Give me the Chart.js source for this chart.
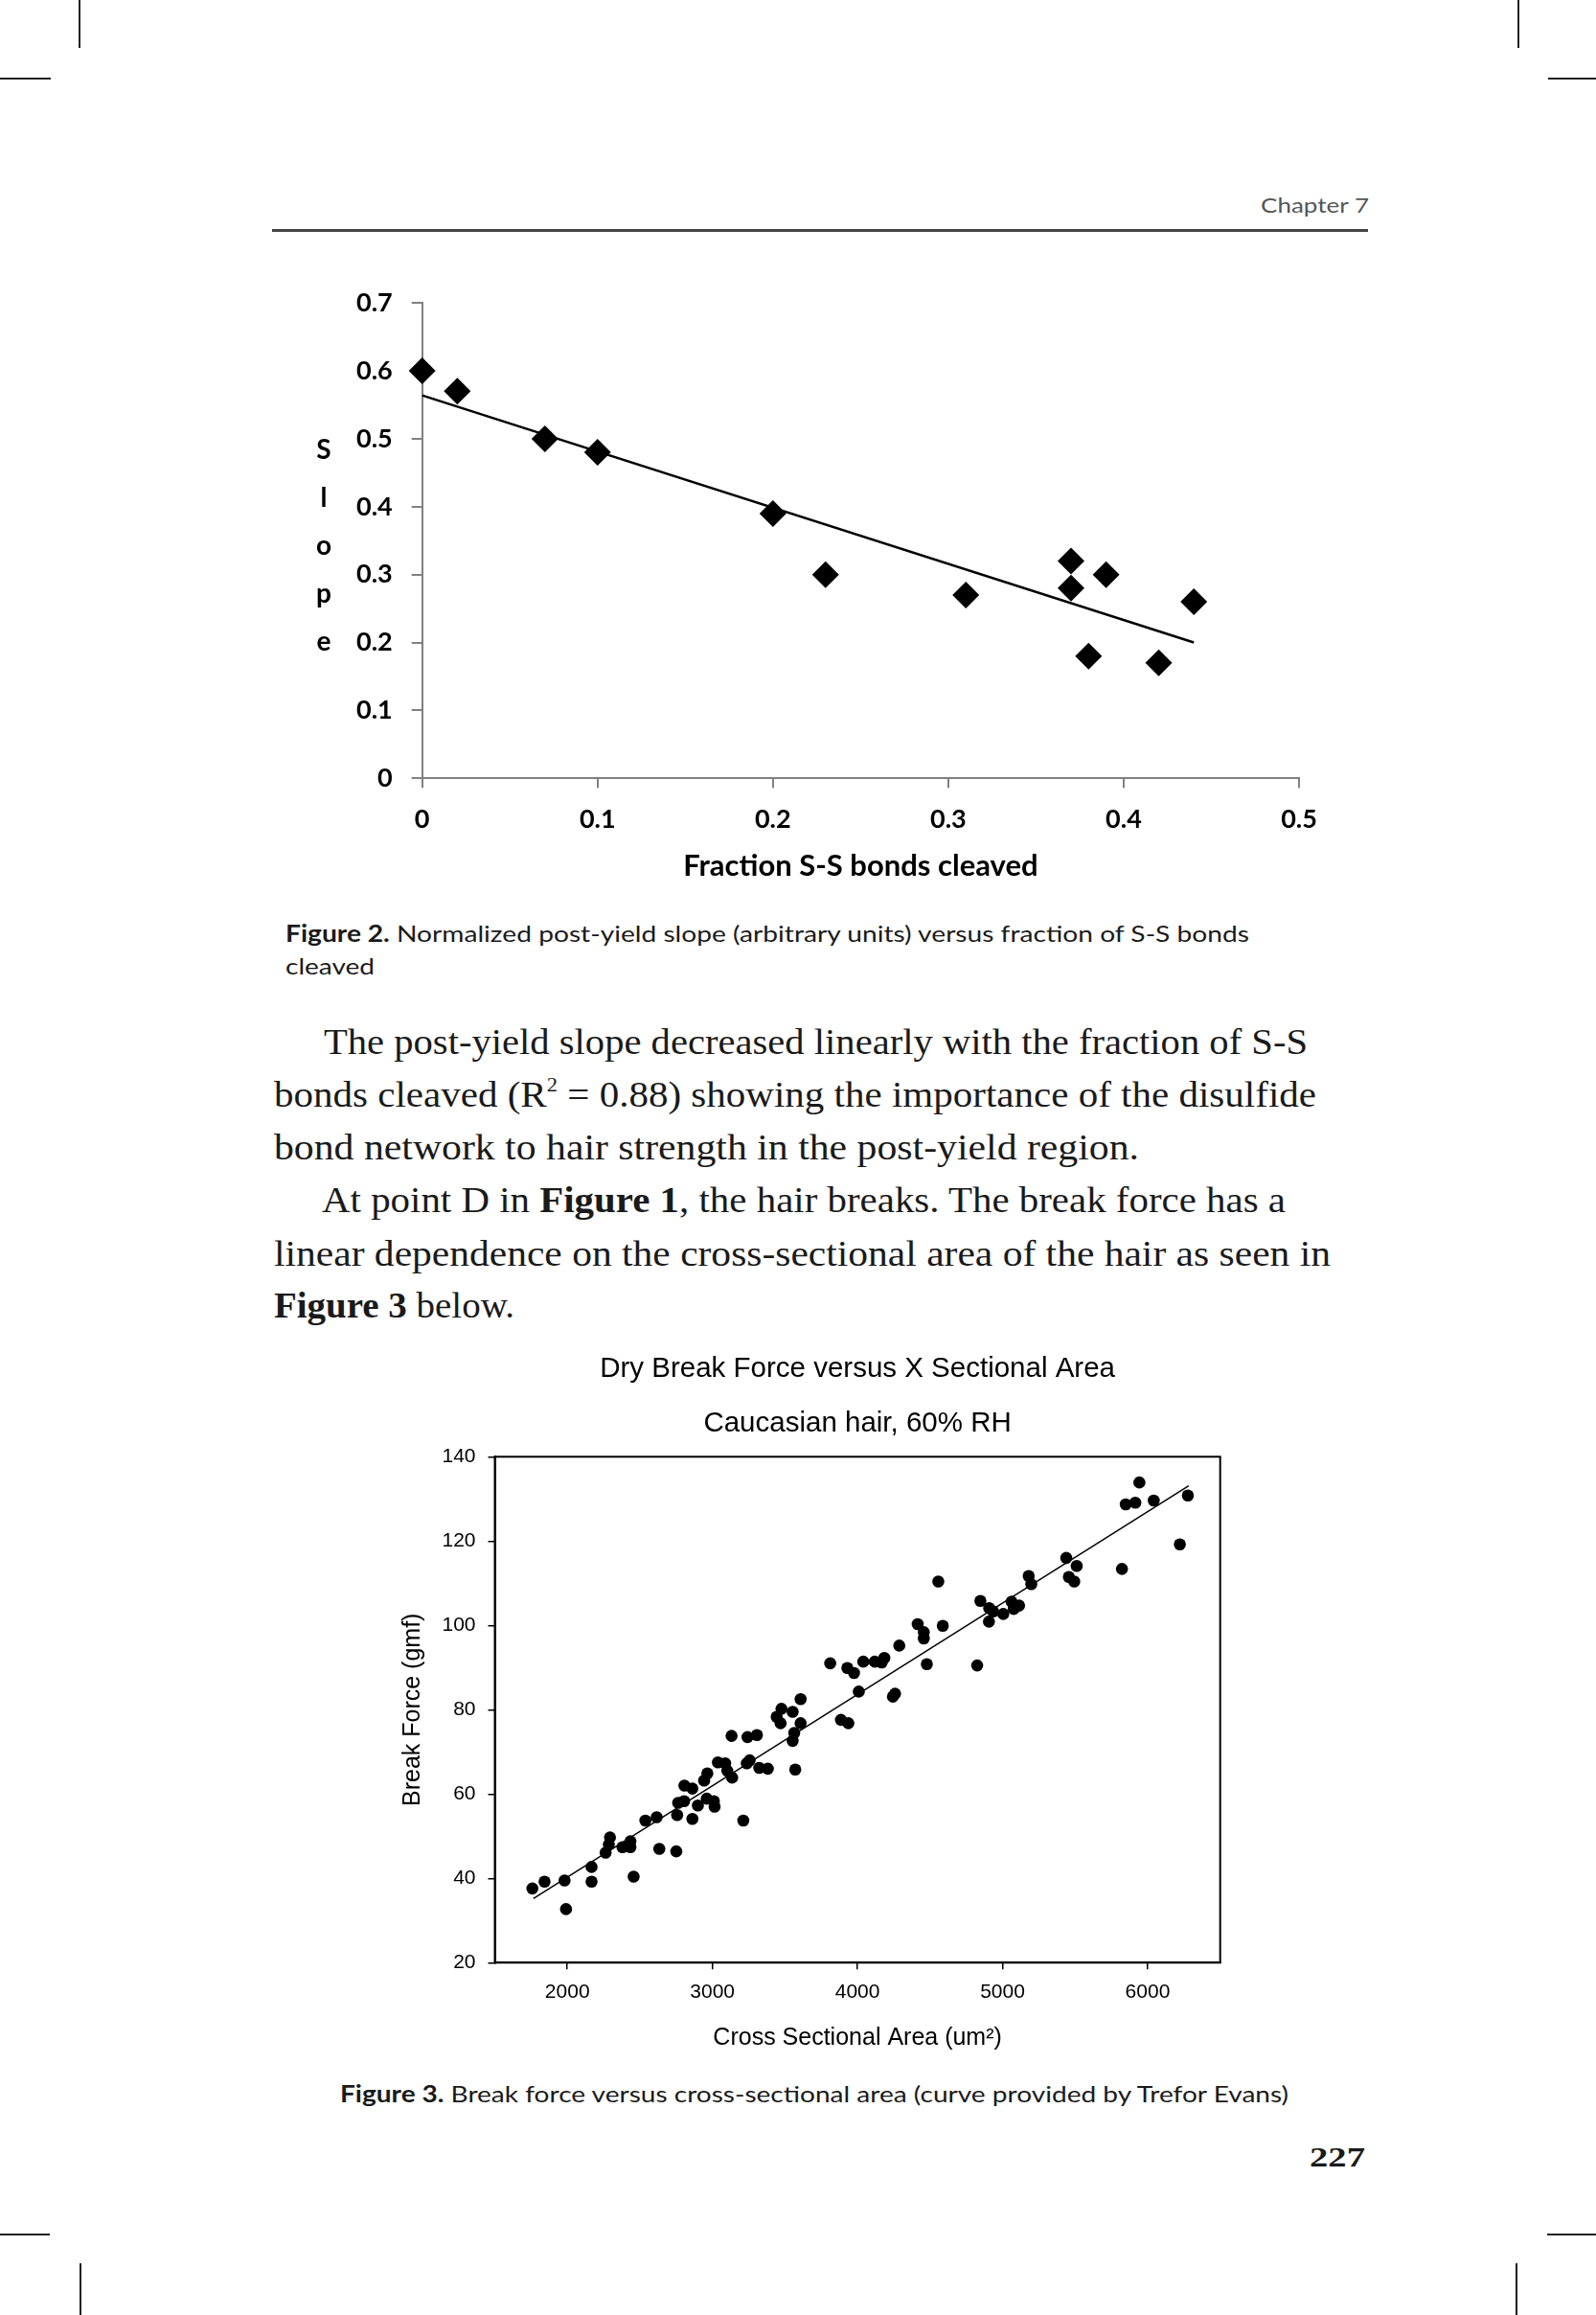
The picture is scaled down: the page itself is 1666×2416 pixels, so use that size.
<!DOCTYPE html>
<html lang="en">
<head>
<meta charset="UTF-8">
<title>Chapter 7 - Figures 2 and 3</title>
<script src="https://cdn.jsdelivr.net/npm/chart.js"></script>
<style>
    html, body { margin: 0; padding: 0; background: #fff; }
    body { width: 1666px; height: 2416px; position: relative; overflow: hidden; }
    .mark { position: absolute; background: #222; }
    .txt { position: absolute; white-space: nowrap; line-height: 0; transform-origin: 0 0; color: #1a1a1a; }
    .sans { font-family: Lato, "Open Sans", sans-serif; font-size: 24px; }
    .serif { font-family: "Liberation Serif", "DejaVu Serif", serif; font-size: 38px; }
    .box { position: absolute; }
    sup { font-size: 55%; line-height: 0; vertical-align: baseline; position: relative; top: -0.75em; }
</style>
</head>
<body>
    <!-- crop marks -->
    <div class="mark" style="left:82px;top:0;width:1.5px;height:50px"></div>
    <div class="mark" style="left:0;top:81px;width:53px;height:1.5px"></div>
    <div class="mark" style="left:1584px;top:0;width:1.5px;height:50px"></div>
    <div class="mark" style="left:1616px;top:81px;width:50px;height:1.5px"></div>
    <div class="mark" style="left:0;top:2331px;width:52px;height:1.5px"></div>
    <div class="mark" style="left:83px;top:2362px;width:1.5px;height:54px"></div>
    <div class="mark" style="left:1615px;top:2331px;width:51px;height:1.5px"></div>
    <div class="mark" style="left:1582px;top:2362px;width:1.5px;height:54px"></div>

    <div class="txt sans" style="left:1316px;top:214px;font-size:22px;color:#555" data-w="113">Chapter 7</div>
    <div class="mark" style="left:284px;top:239px;width:1144px;height:3px;background:#444"></div>

    <div class="box" style="left:280px;top:280px;width:1120px;height:660px">
        <canvas id="chart1"></canvas>
    </div>

    <div class="txt sans" style="left:298px;top:974px" data-w="1006"><b>Figure 2.</b> Normalized post-yield slope (arbitrary units) versus fraction of S-S bonds</div>
    <div class="txt sans" style="left:298px;top:1008px" data-w="93">cleaved</div>

    <div class="txt serif" style="left:338px;top:1087px" data-w="1027">The post-yield slope decreased linearly with the fraction of S-S</div>
    <div class="txt serif" style="left:286px;top:1142px" data-w="1088">bonds cleaved (R<sup>2</sup> = 0.88) showing the importance of the disulfide</div>
    <div class="txt serif" style="left:286px;top:1197px" data-w="903">bond network to hair strength in the post-yield region.</div>
    <div class="txt serif" style="left:336px;top:1252px" data-w="1006">At point D in <b>Figure 1</b>, the hair breaks. The break force has a</div>
    <div class="txt serif" style="left:286px;top:1308px" data-w="1103">linear dependence on the cross-sectional area of the hair as seen in</div>
    <div class="txt serif" style="left:286px;top:1362px" data-w="251"><b>Figure 3</b> below.</div>

    <div class="box" style="left:400px;top:1400px;width:900px;height:760px">
        <canvas id="chart2"></canvas>
    </div>

    <div class="txt sans" style="left:355px;top:2185px" data-w="990"><b>Figure 3.</b> Break force versus cross-sectional area (curve provided by Trefor Evans)</div>
    <div class="txt serif" style="left:1367px;top:2251px;font-size:30px;font-weight:bold" data-w="58">227</div>

    <script>
        // Figure 2: slope vs fraction of S-S bonds cleaved
        const slopeFraction = [0, 0.02, 0.07, 0.10, 0.20, 0.23, 0.31, 0.37, 0.37, 0.39, 0.38, 0.42, 0.44];
        const slopeValue = [0.60, 0.57, 0.50, 0.48, 0.39, 0.30, 0.27, 0.32, 0.28, 0.30, 0.18, 0.17, 0.26];
        const slopeFitX = [0, 0.44];
        const slopeFitY = [0.564, 0.20];
        const fractionTicks = [0, 0.1, 0.2, 0.3, 0.4, 0.5];
        const slopeTicks = [0, 0.1, 0.2, 0.3, 0.4, 0.5, 0.6, 0.7];

        // Figure 3: break force vs cross sectional area
        const areaX = [1759, 1843, 1991, 1981, 2167, 2167, 2264, 2286, 2294, 2380,
            2435, 2435, 2457, 2538, 2616, 2634, 2751, 2757, 2764, 2805,
            2807, 2862, 2862, 2900, 2961, 3010, 3015, 2943, 2965, 3038,
            3088, 3103, 3136, 3132, 3242, 3237, 3213, 3307, 3257, 3323,
            3382, 3571, 3443, 3476, 3470, 3553, 3608, 3564, 3553, 3608,
            3812, 3886, 3937, 3930, 3976, 4009, 4040, 4119, 4167, 4185,
            4244, 4259, 4288, 4415, 4457, 4457, 4478, 4588, 4557, 4825,
            4847, 4908, 4935, 4906, 5005, 5062, 5077, 5114, 5180, 5198,
            5439, 5511, 5457, 5494, 5823, 5849, 5915, 5943, 6042, 6222,
            6277];
        const forceY = [37.6, 39.2, 32.7, 39.5, 42.7, 39.2, 46.1, 48.0, 49.7, 47.4,
            48.8, 47.4, 40.4, 53.7, 54.5, 47.0, 46.4, 55.0, 57.9, 58.3,
            62.0, 61.3, 54.1, 57.3, 58.9, 58.3, 57.0, 63.2, 64.9, 67.5,
            67.3, 65.5, 63.9, 73.8, 73.5, 67.3, 53.7, 74.0, 68.0, 66.2,
            66.0, 65.8, 78.3, 80.2, 76.8, 79.5, 76.8, 74.5, 72.6, 82.5,
            91.0, 77.6, 76.8, 89.9, 88.7, 84.3, 91.4, 91.4, 91.2, 92.3,
            83.1, 83.8, 95.2, 100.3, 98.4, 96.9, 90.8, 99.9, 110.4, 90.5,
            105.8, 104.1, 103.3, 100.9, 102.7, 105.6, 103.9, 104.7, 111.7, 109.8,
            116.0, 114.1, 111.5, 110.4, 113.4, 128.7, 129.1, 133.9, 129.6, 119.2,
            130.8];
        const forceFitX = [1766, 6283];
        const forceFitY = [35.2, 133.1];
        const areaTicks = [2000, 3000, 4000, 5000, 6000];
        const forceTicks = [20, 40, 60, 80, 100, 120, 140];

        function pairs(xs, ys) {
            return xs.map(function (x, i) { return { x: x, y: ys[i] }; });
        }
        function fixedTicks(list) {
            return function (scale) {
                scale.ticks = list.map(function (v) { return { value: v }; });
            };
        }

        // fit each text line to the width it has on the page
        document.querySelectorAll('[data-w]').forEach(function (el) {
            var w = el.getBoundingClientRect().width;
            if (w > 0) el.style.transform = 'scaleX(' + (el.dataset.w / w) + ')';
        });

        // stacked "Slope" letters left of the y axis
        const slopeLetters = {
            id: 'slopeLetters',
            afterDraw(chart) {
                const ctx = chart.ctx;
                ctx.save();
                ctx.font = 'bold 28px Lato';
                ctx.fillStyle = '#000';
                ctx.textAlign = 'center';
                ctx.textBaseline = 'alphabetic';
                'Slope'.split('').forEach(function (c, i) {
                    ctx.fillText(c, 58, 199 + i * 50);
                });
                ctx.restore();
            }
        };

        const frame = {
            id: 'frame',
            afterDraw(chart) {
                const a = chart.chartArea;
                const ctx = chart.ctx;
                ctx.save();
                ctx.strokeStyle = '#000';
                ctx.lineWidth = 2;
                ctx.strokeRect(a.left, a.top, a.right - a.left, a.bottom - a.top);
                ctx.restore();
            }
        };

        const lato = 'Lato, "Open Sans", sans-serif';
        new Chart(document.getElementById('chart1'), {
            type: 'scatter',
            data: {
                datasets: [{
                    data: pairs(slopeFitX, slopeFitY),
                    showLine: true,
                    borderColor: '#000',
                    borderWidth: 2.5,
                    pointRadius: 0,
                    clip: false
                }, {
                    data: pairs(slopeFraction, slopeValue),
                    pointStyle: 'rectRot',
                    pointRadius: 14,
                    backgroundColor: '#000',
                    borderWidth: 0,
                    clip: false
                }]
            },
            options: {
                responsive: true,
                maintainAspectRatio: false,
                animation: false,
                devicePixelRatio: 1,
                layout: { padding: { top: 33, right: 44, bottom: 0, left: 0 } },
                plugins: { legend: { display: false }, tooltip: { enabled: false } },
                scales: {
                    x: {
                        type: 'linear', min: 0, max: 0.5,
                        afterBuildTicks: fixedTicks(fractionTicks),
                        afterFit: function (s) { s.height = 127.7; },
                        grid: { drawOnChartArea: false, drawTicks: true, tickLength: 10, color: '#808080', lineWidth: 2 },
                        border: { color: '#808080', width: 2 },
                        ticks: {
                            color: '#000', padding: 17, maxRotation: 0,
                            font: { family: lato, size: 27, weight: 'bold' },
                            callback: function (v) { return String(+v.toFixed(1)); }
                        },
                        title: {
                            display: true, text: 'Fraction S-S bonds cleaved', color: '#000',
                            font: { family: lato, size: 31, weight: 'bold' },
                            padding: { top: 0, bottom: 17 }
                        }
                    },
                    y: {
                        type: 'linear', min: 0, max: 0.7,
                        afterBuildTicks: fixedTicks(slopeTicks),
                        afterFit: function (s) { s.width = 160.7; },
                        grid: { drawOnChartArea: false, drawTicks: true, tickLength: 11, color: '#808080', lineWidth: 2 },
                        border: { color: '#808080', width: 2 },
                        ticks: {
                            color: '#000', padding: 20,
                            font: { family: lato, size: 27, weight: 'bold' },
                            callback: function (v) { return String(+v.toFixed(1)); }
                        }
                    }
                }
            },
            plugins: [slopeLetters]
        });

        const arial = '"Liberation Sans", Arial, sans-serif';
        new Chart(document.getElementById('chart2'), {
            type: 'scatter',
            data: {
                datasets: [{
                    data: pairs(forceFitX, forceFitY),
                    showLine: true,
                    borderColor: '#000',
                    borderWidth: 1.5,
                    pointRadius: 0,
                    clip: false
                }, {
                    data: pairs(areaX, forceY),
                    pointRadius: 6.3,
                    backgroundColor: '#000',
                    borderWidth: 0,
                    clip: false
                }]
            },
            options: {
                responsive: true,
                maintainAspectRatio: false,
                animation: false,
                devicePixelRatio: 1,
                layout: { padding: { top: 0, right: 26.3, bottom: 0, left: 0 } },
                plugins: {
                    legend: { display: false },
                    tooltip: { enabled: false },
                    title: {
                        display: true, fullSize: false,
                        text: 'Dry Break Force versus X Sectional Area', color: '#000',
                        font: { family: arial, size: 29.5, weight: 'normal' },
                        padding: { top: 11, bottom: 0 }
                    },
                    subtitle: {
                        display: true, fullSize: false,
                        text: 'Caucasian hair, 60% RH', color: '#000',
                        font: { family: arial, size: 29.5, weight: 'normal' },
                        padding: { top: 22, bottom: 16.5 }
                    }
                },
                scales: {
                    x: {
                        type: 'linear', min: 1500, max: 6500,
                        afterBuildTicks: fixedTicks(areaTicks),
                        afterFit: function (s) { s.height = 111.7; },
                        grid: { drawOnChartArea: false, drawTicks: true, tickLength: 7, color: '#000', lineWidth: 1.5 },
                        border: { color: '#000', width: 2 },
                        ticks: {
                            color: '#000', padding: 11, maxRotation: 0, font: { family: arial, size: 21 },
                            callback: function (v) { return String(v); }
                        },
                        title: {
                            display: true, text: 'Cross Sectional Area (um²)', color: '#000',
                            font: { family: arial, size: 25 },
                            padding: { top: 0, bottom: 18 }
                        }
                    },
                    y: {
                        type: 'linear', min: 20, max: 140,
                        afterBuildTicks: fixedTicks(forceTicks),
                        afterFit: function (s) { s.width = 116.5; },
                        grid: { drawOnChartArea: false, drawTicks: true, tickLength: 7, color: '#000', lineWidth: 1.5 },
                        border: { color: '#000', width: 2 },
                        ticks: { color: '#000', padding: 13, font: { family: arial, size: 21 } },
                        title: {
                            display: true, text: 'Break Force (gmf)', color: '#000',
                            font: { family: arial, size: 25 },
                            padding: { top: 16, bottom: 0 }
                        }
                    }
                }
            },
            plugins: [frame]
        });
    </script>
</body>
</html>
